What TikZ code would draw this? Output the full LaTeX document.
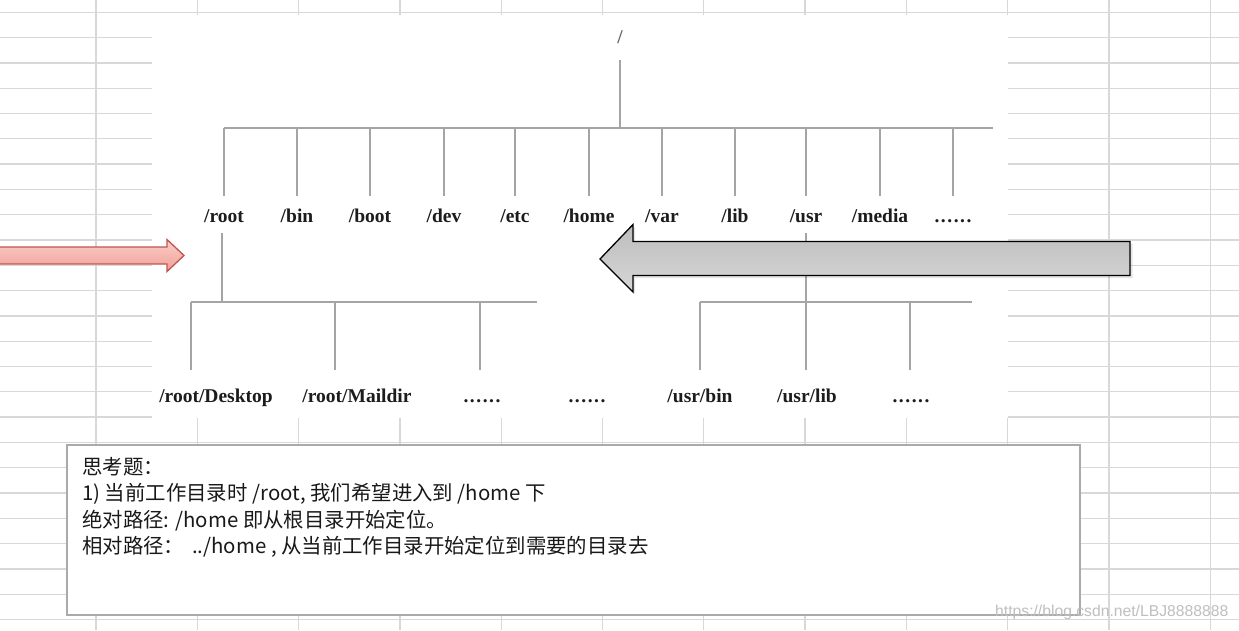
\documentclass[tikz,border=0pt]{standalone}
\usepackage{fontspec}
\setmainfont{Liberation Serif}
\newfontfamily\cjkfont{Noto Sans CJK SC}
\newfontfamily\wmfont{Liberation Sans}
\definecolor{gridgray}{RGB}{216,216,216}
\definecolor{treegray}{RGB}{165,165,165}
\definecolor{boxgray}{RGB}{170,170,170}
\definecolor{pinktop}{RGB}{250,206,200}
\definecolor{pinkbot}{RGB}{240,160,152}
\definecolor{pinkline}{RGB}{192,86,80}
\definecolor{labelink}{RGB}{28,28,28}
\begin{document}
\begin{tikzpicture}[x=1pt,y=-1pt,
  gridline/.style={gridgray, line width=1.3pt},
  treeline/.style={treegray, line width=2pt},
  dirname/.style={font=\fontsize{19.5}{22}\selectfont\bfseries, text=labelink, inner sep=0pt, anchor=base},
  note/.style={font=\cjkfont\fontsize{20.4}{26}\selectfont, text=black!90, inner sep=0pt, anchor=base west},
  wmark/.style={font=\wmfont\fontsize{15.7}{16}\selectfont, text=black!25, inner sep=0pt, anchor=base west}
]
\useasboundingbox (0,0) rectangle (1239,630);
\fill[white] (0,0) rectangle (1239,630);
% spreadsheet grid
\foreach \i in {0,...,11} \draw[gridline] ({96+101.3*\i},0) -- ({96+101.3*\i},630);
\foreach \j in {0,...,24} \draw[gridline] (0,{12.3+25.3*\j}) -- (1239,{12.3+25.3*\j});
% white panel
\fill[white] (152,15) rectangle (1008,418);

% ---- tree, level 0
\node[dirname, text=black!60] (top) at (620,43) {/};
\coordinate (topdown) at (620,60);
\coordinate (topbus) at (620,128);
\draw[treeline] (topdown) -- (topbus);
\coordinate (busL) at (224,128);
\coordinate (busR) at (993,128);
\draw[treeline] (busL) -- (busR);
\foreach \x [count=\k] in {224,297,370,444,515,589,662,735,806,880,953} {
  \coordinate (t\k) at (\x,128);
  \coordinate (b\k) at (\x,196);
  \draw[treeline] (t\k) -- (b\k);
}
% level 1 labels
\node[dirname] (droot)  at (224,222.5) {/root};
\node[dirname] (dbin)   at (297,222.5) {/bin};
\node[dirname] (dboot)  at (370,222.5) {/boot};
\node[dirname] (ddev)   at (444,222.5) {/dev};
\node[dirname] (detc)   at (515,222.5) {/etc};
\node[dirname] (dhome)  at (589,222.5) {/home};
\node[dirname] (dvar)   at (662,222.5) {/var};
\node[dirname] (dlib)   at (735,222.5) {/lib};
\node[dirname] (dusr)   at (806,222.5) {/usr};
\node[dirname] (dmedia) at (880,222.5) {/media};
\node[dirname] (dmore)  at (953,222.5) {\makebox[37pt][s]{.\hfil.\hfil.\hfil.\hfil.\hfil.}};

% ---- level 2 under /root
\coordinate (rdown) at (222,233);
\coordinate (rbus) at (222,302);
\draw[treeline] (rdown) -- (rbus);
\coordinate (rbusL) at (191,302);
\coordinate (rbusR) at (537,302);
\draw[treeline] (rbusL) -- (rbusR);
\foreach \x [count=\k] in {191,335,480} {
  \coordinate (rt\k) at (\x,302);
  \coordinate (rb\k) at (\x,370);
  \draw[treeline] (rt\k) -- (rb\k);
}
% ---- level 2 under /usr
\coordinate (udown) at (806,233);
\coordinate (ubus) at (806,302);
\draw[treeline] (udown) -- (ubus);
\coordinate (ubusL) at (700,302);
\coordinate (ubusR) at (972,302);
\draw[treeline] (ubusL) -- (ubusR);
\foreach \x [count=\k] in {700,806,910} {
  \coordinate (ut\k) at (\x,302);
  \coordinate (ub\k) at (\x,370);
  \draw[treeline] (ut\k) -- (ub\k);
}
% level 2 labels
\node[dirname] (ddesk) at (216,402) {/root/Desktop};
\node[dirname] (dmail) at (357,402) {/root/Maildir};
\node[dirname] (dm1)   at (482,402) {\makebox[37pt][s]{.\hfil.\hfil.\hfil.\hfil.\hfil.}};
\node[dirname] (dm2)   at (587,402) {\makebox[37pt][s]{.\hfil.\hfil.\hfil.\hfil.\hfil.}};
\node[dirname] (dubin) at (700,402) {/usr/bin};
\node[dirname] (dulib) at (807,402) {/usr/lib};
\node[dirname] (dm3)   at (911,402) {\makebox[37pt][s]{.\hfil.\hfil.\hfil.\hfil.\hfil.}};

% ---- pink arrow (left)
\draw[draw=pinkline, line width=1.3pt, top color=pinktop, bottom color=pinkbot]
  (-3,247) -- (167,247) -- (167,239.5) -- (184,255.5) -- (167,271.5) -- (167,264) -- (-3,264) -- cycle;

% ---- gray arrow (right), with soft shadow
\fill[black, opacity=0.10]
  (602,261.5) -- (635,226.5) -- (635,243.5) -- (1132.5,243.5) -- (1132.5,278) -- (635,278) -- (635,294.5) -- cycle;
\draw[draw=black, line width=1.3pt, top color=black!26, middle color=black!6, bottom color=black!16]
  (600,259) -- (633,224.5) -- (633,241.5) -- (1130,241.5) -- (1130,275.5) -- (633,275.5) -- (633,292) -- cycle;

% ---- note box
\draw[boxgray, line width=1.3pt, fill=white] (67,445) rectangle (1080,615);
\node[note] (q0) at (82,474) {思考题：};
\node[note] (q1) at (82,500) {1) 当前工作目录时 /root, 我们希望进入到 /home 下};
\node[note] (q2) at (82,527) {绝对路径: /home 即从根目录开始定位。};
\node[note] (q3) at (82,553) {相对路径：\hspace{8pt}../home , 从当前工作目录开始定位到需要的目录去};

% watermark
\node[wmark] (wm) at (995,616) {https://blog.csdn.net/LBJ8888888};
\end{tikzpicture}
\end{document}
